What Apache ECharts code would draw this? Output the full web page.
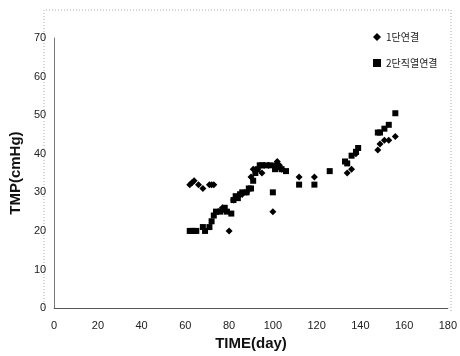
<!DOCTYPE html>
<html><head><meta charset="utf-8">
<script src="https://cdn.jsdelivr.net/npm/echarts@6/dist/echarts.min.js"></script>
<style>html,body{margin:0;padding:0;background:#fff}#c{width:460px;height:356px}</style>
</head><body><div id="c"></div>
<script>
const seriesNames = ['1단연결', '2단직열연결'];
const xTicks = [0, 20, 40, 60, 80, 100, 120, 140, 160, 180];
const yTicks = [0, 10, 20, 30, 40, 50, 60, 70];
const series1 = [[62,32],[63,32.5],[64,33],[66,32],[68,31],[71,32],[72,32],[73,32],[75,25],[77,26],[80,20],[82,28],[84,29],[86,29.5],[88,30],[90,34],[91,36],[93,36],[95,35],[96,37],[98,37],[100,25],[101,37],[102,38],[103,37],[104,36],[112,34],[119,34],[134,35],[136,36],[138,40],[148,41],[149,42.5],[151,43.5],[153,43.5],[156,44.5]];
const series2 = [[62,20],[63,20],[64,20],[65,20],[68,21],[69,20],[71,21],[72,22.5],[73,24],[74,25],[76,25],[77,25.5],[78,26],[79,25],[81,24.5],[82,28],[83,29],[84,28.5],[85,29.5],[86,30],[88,30],[89,31],[90,31],[91,33],[92,35],[93,36],[94,37],[95,37],[97,37],[99,37],[100,30],[101,36],[102,36.5],[104,36],[106,35.5],[112,32],[119,32],[126,35.5],[133,38],[134,37.5],[136,39.5],[138,40.5],[139,41.5],[148,45.5],[149,45.5],[151,46.5],[153,47.5],[156,50.5]];

const chart = echarts.init(document.getElementById('c'));
const font = 'Liberation Sans, Arial, sans-serif';
chart.setOption({
  animation: false,
  backgroundColor: '#fff',
  grid: {left: 44, right: 8, top: 38, bottom: 45},
  legend: {
    orient: 'vertical', left: 368, top: 27, itemGap: 16, itemWidth: 8, itemHeight: 8,
    textStyle: {fontFamily: 'Noto Sans CJK KR', fontSize: 10, color: '#222'},
    data: [{name: seriesNames[0], icon: 'diamond'}, {name: seriesNames[1], icon: 'rect'}]
  },
  graphic: [{
    type: 'polyline', silent: true,
    shape: {points: [[44, 311], [44, 10], [451, 10], [451, 311]]},
    style: {stroke: '#aaa', lineWidth: 1, lineDash: [1, 2], fill: null}
  }],
  xAxis: {
    type: 'value', min: xTicks[0], max: xTicks[xTicks.length - 1], interval: 20,
    name: 'TIME(day)', nameLocation: 'middle', nameGap: 27,
    nameTextStyle: {fontFamily: font, fontSize: 15, fontWeight: 'bold', color: '#111'},
    axisLine: {lineStyle: {color: '#555', width: 1}},
    axisTick: {show: false},
    axisLabel: {fontFamily: font, fontSize: 11, color: '#222', margin: 12},
    splitLine: {show: false}
  },
  yAxis: {
    type: 'value', min: yTicks[0], max: yTicks[yTicks.length - 1], interval: 10,
    name: 'TMP(cmHg)', nameLocation: 'middle', nameGap: 24,
    nameTextStyle: {fontFamily: font, fontSize: 15, fontWeight: 'bold', color: '#111'},
    axisLine: {show: true, lineStyle: {color: '#777', width: 1}},
    axisTick: {show: false},
    axisLabel: {fontFamily: font, fontSize: 11, color: '#222', margin: 8},
    splitLine: {show: false}
  },
  series: [
    {name: seriesNames[0], type: 'scatter', symbol: 'diamond', symbolSize: 7, data: series1, itemStyle: {color: '#000', opacity: 1}},
    {name: seriesNames[1], type: 'scatter', symbol: 'rect', symbolSize: 6, data: series2, itemStyle: {color: '#000', opacity: 1}}
  ]
});
</script></body></html>
